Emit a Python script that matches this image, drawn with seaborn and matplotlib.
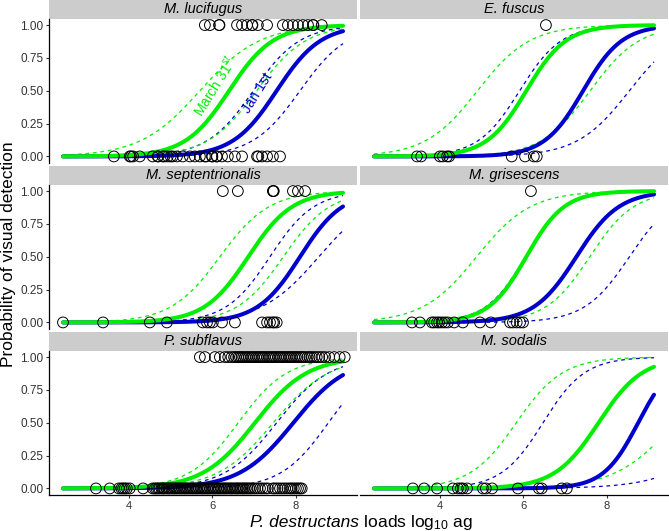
import numpy as np
import pandas as pd
import seaborn as sns
import matplotlib.pyplot as plt
from matplotlib.patches import Rectangle

species = ["M. lucifugus", "E. fuscus", "M. septentrionalis",
           "M. grisescens", "P. subflavus", "M. sodalis"]

# observed P. destructans loads (log10 ag), bats without (0) / with (1) visible lesions
luci_0 = [3.64, 4.02, 4.05, 4.10, 4.26, 4.57, 4.69, 4.70, 4.81, 4.85, 4.93, 5.00, 5.05,
          5.15, 5.29, 5.46, 5.58, 5.70, 5.82, 5.85, 5.99, 6.00, 6.10, 6.11, 6.23, 6.37,
          6.54, 6.71, 7.07, 7.10, 7.19, 7.31, 7.45, 7.62]
luci_1 = [5.82, 5.94, 6.16, 6.17, 6.59, 6.71, 6.83, 6.95, 6.96, 7.09, 7.31, 7.69, 7.81,
          7.93, 8.05, 8.17, 8.29, 8.41, 8.42, 8.62]
fusc_0 = [3.45, 3.55, 4.00, 4.07, 4.17, 4.22, 5.72, 6.04, 6.25, 6.32]
fusc_1 = [6.54]
sept_0 = [2.42, 3.38, 4.50, 4.91, 5.77, 5.87, 5.94, 6.01, 6.23, 6.54, 7.19, 7.31, 7.38,
          7.45, 7.48, 7.54]
sept_1 = [6.25, 6.61, 7.45, 7.46, 7.47, 7.93, 8.05, 8.22]
gris_0 = [3.33, 3.52, 3.81, 3.86, 3.93, 3.98, 4.05, 4.12, 4.19, 4.34, 4.55, 4.96, 5.22,
          5.68, 5.75, 5.84, 5.92, 5.99]
gris_1 = [6.18]
subf_0 = [3.21, 3.54, 3.76, 3.82, 3.86, 3.90, 3.95, 4.02, 4.34, 4.57, 4.62, 4.66, 4.70,
          4.73, 4.78, 4.82, 4.85, 4.90, 4.94, 4.97, 5.01, 5.05, 5.09, 5.12, 5.16, 5.20,
          5.23, 5.27, 5.31, 5.35, 5.38, 5.42, 5.46, 5.50, 5.53, 5.57, 5.61, 5.64, 5.68,
          5.72, 5.76, 5.79, 5.83, 5.87, 5.90, 5.94, 5.98, 6.02, 6.05, 6.09, 6.13, 6.16,
          6.20, 6.24, 6.28, 6.31, 6.35, 6.39, 6.43, 6.46, 6.50, 6.54, 6.58, 6.61, 6.65,
          6.69, 6.73, 6.76, 6.80, 6.84, 6.88, 6.92, 6.97, 7.02, 7.08, 7.14, 7.20, 7.27,
          7.33, 7.45, 7.50, 7.56, 7.62, 7.68, 7.74, 7.80, 7.86, 7.90, 7.95, 8.00, 8.05,
          8.10, 8.14]
subf_1 = [5.70, 5.82, 6.06, 6.18, 6.30, 6.38, 6.46, 6.52, 6.57, 6.62, 6.66, 6.70, 6.74,
          6.79, 6.83, 6.87, 6.92, 6.96, 7.00, 7.05, 7.09, 7.13, 7.18, 7.22, 7.26, 7.31,
          7.35, 7.39, 7.44, 7.48, 7.52, 7.57, 7.61, 7.65, 7.70, 7.74, 7.78, 7.83, 7.87,
          7.91, 7.96, 8.00, 8.04, 8.09, 8.13, 8.17, 8.22, 8.28, 8.33, 8.38, 8.44, 8.50,
          8.56, 8.63, 8.70, 8.80, 8.92, 9.05, 9.17]
soda_0 = [3.35, 3.62, 3.93, 4.31, 4.43, 4.50, 4.55, 4.65, 5.03, 5.10, 5.25, 5.87, 6.37,
          6.44, 6.92, 7.04]
soda_1 = []

zeros = [luci_0, fusc_0, sept_0, gris_0, subf_0, soda_0]
ones = [luci_1, fusc_1, sept_1, gris_1, subf_1, soda_1]

# fitted logistic curves: load at p = 0.5, and logit slope
# order within each list: fit, upper band, lower band
mar_mid = [[6.40, 5.70, 7.06], [6.07, 4.90, 7.60], [6.86, 6.18, 7.70],
           [6.07, 4.88, 7.59], [7.02, 6.62, 7.46], [7.80, 5.83, 9.64]]
mar_slope = [[1.9, 1.4, 1.7], [2.1, 1.6, 1.7], [1.9, 1.7, 1.8],
             [2.2, 1.55, 1.9], [1.6, 1.7, 1.5], [1.9, 1.8, 1.39]]
jan_mid = [[7.54, 6.98, 8.10], [7.43, 5.91, 8.54], [8.10, 7.38, 8.55],
           [7.27, 6.05, 8.54], [7.94, 7.54, 8.78], [8.75, 6.47, 11.05]]
jan_slope = [[1.9, 1.8, 1.75], [2.15, 2.0, 1.6], [1.96, 1.9, 1.45],
             [1.96, 2.1, 1.86], [1.55, 1.6, 1.75], [2.4, 2.0, 1.3]]
load_range = [2.42, 9.13]

green = "#00EE00"
blue = "#0000CD"

sns.set_theme(style="white")
plt.rcParams["font.family"] = ["Liberation Sans", "DejaVu Sans"]
plt.rcParams["mathtext.fontset"] = "custom"
plt.rcParams["mathtext.rm"] = "Liberation Sans"
plt.rcParams["mathtext.it"] = "Liberation Sans:italic"

W, H = 669, 531
fig = plt.figure(figsize=(W / 100, H / 100), dpi=100)
lefts = [49, 360]
tops = [18.5, 184.5, 350.5]
pw, ph, sh = 308, 144.5, 19

xs = np.linspace(load_range[0], load_range[1], 200)


def curve(mid, k):
    return 1 / (1 + np.exp(-k * (xs - mid)))


for i, sp in enumerate(species):
    r, c = divmod(i, 2)
    ax = fig.add_axes([lefts[c] / W, 1 - (tops[r] + ph) / H, pw / W, ph / H])

    for j in (1, 2):
        sns.lineplot(x=xs, y=curve(mar_mid[i][j], mar_slope[i][j]), ax=ax,
                     color=green, linewidth=0.9, linestyle=(0, (3, 3)))
        sns.lineplot(x=xs, y=curve(jan_mid[i][j], jan_slope[i][j]), ax=ax,
                     color=blue, linewidth=0.9, linestyle=(0, (3, 3)))
    sns.lineplot(x=xs, y=curve(jan_mid[i][0], jan_slope[i][0]), ax=ax,
                 color=blue, linewidth=2.9)
    sns.lineplot(x=xs, y=curve(mar_mid[i][0], mar_slope[i][0]), ax=ax,
                 color=green, linewidth=2.9)

    pts = pd.DataFrame({"load": zeros[i] + ones[i],
                        "vis": [0] * len(zeros[i]) + [1] * len(ones[i])})
    sns.scatterplot(data=pts, x="load", y="vis", ax=ax, s=60, marker="o",
                    facecolor="none", edgecolor="black", linewidth=0.7, zorder=5)

    ax.set_xlim(2.085, 9.465)
    ax.set_ylim(-0.05, 1.05)
    ax.set_xlabel("")
    ax.set_ylabel("")
    for s in ax.spines.values():
        s.set_visible(False)
    ax.tick_params(axis="both", direction="out", length=2.5, width=0.8,
                   color="#333333", labelcolor="#333333", labelsize=8.5, pad=1.5)
    ax.set_xticks([4, 6, 8])
    ax.set_yticks([0, 0.25, 0.5, 0.75, 1.0])
    ax.set_yticklabels(["0.00", "0.25", "0.50", "0.75", "1.00"])
    if c == 0:
        ax.spines["left"].set_visible(True)
        ax.spines["left"].set_color("black")
        ax.spines["left"].set_linewidth(0.9)
        ax.tick_params(axis="y", left=True)
    else:
        ax.tick_params(axis="y", left=False, labelleft=False)
    if r == 2:
        ax.spines["bottom"].set_visible(True)
        ax.spines["bottom"].set_color("black")
        ax.spines["bottom"].set_linewidth(0.9)
        ax.tick_params(axis="x", bottom=True, labelsize=8)
    else:
        ax.tick_params(axis="x", bottom=False, labelbottom=False)

    ax.add_patch(Rectangle((0, 1), 1, sh / ph, transform=ax.transAxes,
                           facecolor="#CCCCCC", edgecolor="none", clip_on=False))
    ax.text(0.5, 1 + sh / ph / 2, sp, transform=ax.transAxes, ha="center",
            va="center", fontstyle="italic", fontsize=10.5, color="black")

    if i == 0:
        ax.text(6.06, 0.54, "March 31$^{st}$", color=green, rotation=58,
                ha="center", va="center", fontsize=10)
        ax.text(7.09, 0.48, "Jan 1st", color=blue, rotation=58,
                ha="center", va="center", fontsize=10)

fig.text(9 / W, 1 - 254 / H, "Probability of visual detection", rotation=90,
         ha="center", va="center", fontsize=12.5, color="black")
# x label: italic species name, then the plain part, sharing one baseline
fig.text(359 / W, 1 - 527 / H, "P. destructans", fontstyle="italic",
         ha="right", va="baseline", fontsize=12.5, color="black")
fig.text(359 / W, 1 - 527 / H, " loads log$_{10}$ ag",
         ha="left", va="baseline", fontsize=12.5, color="black")

fig.savefig("out.png", dpi=100)
